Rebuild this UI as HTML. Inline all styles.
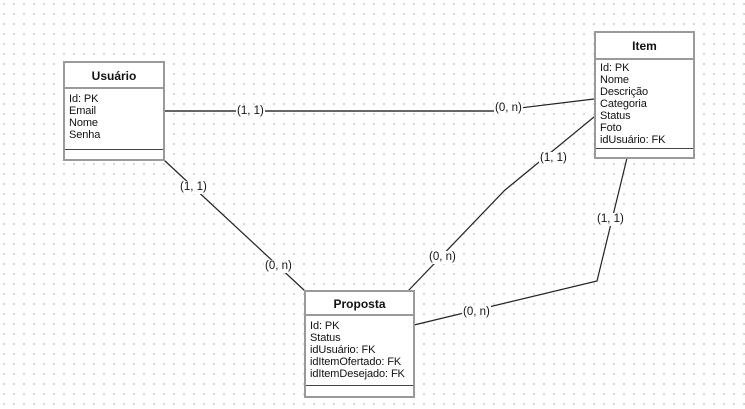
<!DOCTYPE html>
<html><head><meta charset="utf-8"><style>
html,body{margin:0;padding:0}
body{width:745px;height:409px;position:relative;overflow:hidden;background:#fff;
background-image:radial-gradient(circle,#b4b4b4 0.7px,transparent 0.9px);background-size:10px 10px;background-position:-1px -1px;
font-family:"Liberation Sans",sans-serif;color:#111}
.box{position:absolute;background:#fff;border:2px solid #9a9a9a;box-sizing:border-box}
.t{font-weight:bold;font-size:12px;text-align:center;border-bottom:2px solid #9a9a9a}
.a{font-size:11px;line-height:12px;padding:4px 4px 0 4px;border-bottom:1px solid #444;white-space:nowrap;letter-spacing:-0.1px}
svg{position:absolute;left:0;top:0}
.l{position:absolute;font-size:11.5px;background:#fff;line-height:13px;padding:0 1px}
</style></head><body>
<svg width="745" height="409">
<g fill="none" stroke="#222" stroke-width="1.2">
<polyline points="164,111 495,111" stroke="#666" stroke-width="2"/>
<polyline points="495,111 594,99"/>
<line x1="164" y1="160" x2="305" y2="291"/>
<polyline points="594,117 505,190 408,291"/>
<polyline points="627,158 597,281 414,325"/>
</g>
</svg>
<div class="box" style="left:63px;top:61px;width:102px;height:100px">
<div class="t" style="height:24px;line-height:26px">Usuário</div>
<div class="a" style="height:56px">Id: PK<br>Email<br>Nome<br>Senha</div>
</div>
<div class="box" style="left:594px;top:31px;width:101px;height:128px">
<div class="t" style="height:25px;line-height:27px">Item</div>
<div class="a" style="padding-top:2px;height:86px;line-height:12px">Id: PK<br>Nome<br>Descrição<br>Categoria<br>Status<br>Foto<br>idUsuário: FK</div>
</div>
<div class="box" style="left:304px;top:290px;width:111px;height:108px">
<div class="t" style="height:22px;line-height:24px">Proposta</div>
<div class="a" style="padding-top:4px;height:65px">Id: PK<br>Status<br>idUsuário: FK<br>idItemOfertado: FK<br>idItemDesejado: FK</div>
</div>
<div class="l" style="left:236px;top:105px">(1, 1)</div>
<div class="l" style="left:494px;top:102px">(0, n)</div>
<div class="l" style="left:179px;top:181px">(1, 1)</div>
<div class="l" style="left:264px;top:260px">(0, n)</div>
<div class="l" style="left:539px;top:152px">(1, 1)</div>
<div class="l" style="left:428px;top:251px">(0, n)</div>
<div class="l" style="left:596px;top:213px">(1, 1)</div>
<div class="l" style="left:462px;top:306px">(0, n)</div>
</body></html>
